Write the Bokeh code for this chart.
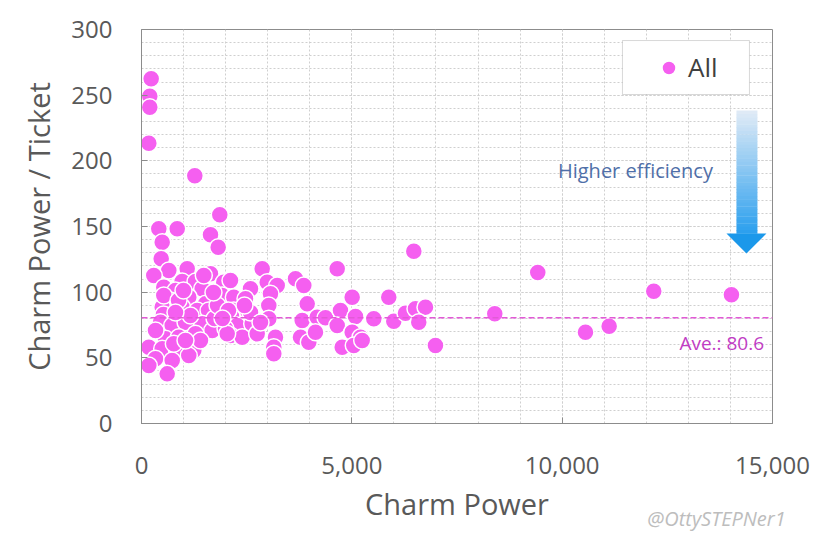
from bokeh.plotting import figure
from bokeh.models import (ColumnDataSource, SingleIntervalTicker, NumeralTickFormatter,
                          Span, Label, BoxAnnotation, LinearAxis, FixedTicker)
from bokeh.embed import file_html
from bokeh.resources import INLINE

# ---- data ----
charm_power = [
    230, 197, 197, 174, 1267, 1861, 411, 849, 1640,
    492, 1823, 468, 649, 1086, 292, 1640, 967, 1284, 530, 808, 1443, 1956, 1918, 689, 1124, 1521, 492, 967, 1324,
    523, 1593, 452, 730, 1046, 1443, 1681, 2037, 1284, 570, 887, 174, 492, 849, 1243, 333, 730, 174, 611, 1124,
    2869, 2116, 2591, 2988, 3226, 3661, 3858, 2194, 2472, 3066, 3026, 3939, 2194, 2512,
    2139, 3026, 2275, 2631, 1997, 2116, 2394, 2750, 3185, 3145, 3145, 3820, 4176, 3779, 3977, 4136,
    4652, 6473, 5008, 5878, 4374, 4730, 5087, 5522, 5997, 6275, 6513, 6751, 6591, 4652, 5008, 5206, 4771, 5046, 5246, 6988, 8398,
    9420, 10554, 11117, 12177, 14024,
    2037, 768, 530, 1481, 880, 1165, 1735, 1807, 1402, 1046, 808, 333, 1711, 998, 2068, 2591, 2829, 2448, 1925,
]
cp_per_ticket = [
    262.5, 249.2, 240.8, 213.4, 188.6, 158.9, 148.3, 148.3, 143.7,
    138.0, 134.2, 125.4, 116.5, 117.8, 112.7, 114.0, 108.1, 108.1, 103.8, 101.3, 102.6, 107.6, 97.5, 93.7, 96.2, 91.1, 88.6, 88.6, 86.0,
    83.0, 86.0, 77.1, 74.6, 77.1, 75.9, 70.8, 73.3, 68.3, 64.5, 65.7, 58.1, 56.9, 54.3, 55.6, 49.3, 48.0, 44.2, 37.8, 51.8,
    117.8, 108.9, 102.6, 107.6, 105.1, 110.2, 105.1, 96.2, 95.0, 98.8, 89.9, 91.1, 86.0, 86.0,
    81.5, 79.7, 74.6, 75.9, 72.1, 67.0, 65.7, 68.3, 65.7, 58.1, 53.1, 78.4, 80.9, 65.7, 61.9, 69.5,
    117.8, 131.2, 96.2, 96.2, 80.5, 86.0, 81.5, 79.7, 77.9, 84.0, 87.3, 88.6, 77.1, 74.6, 69.5, 65.7, 58.1, 59.4, 63.2, 59.4, 83.5,
    115.0, 69.5, 74.1, 100.7, 98.0,
    68.3, 60.7, 97.5, 112.7, 93.7, 82.2, 80.0, 89.9, 63.2, 63.2, 84.5, 70.8, 99.7, 101.3, 86.0, 84.5, 76.9, 89.9, 80.0,
]
average_value = 80.6
series_name = "All"
x_title = "Charm Power"
y_title = "Charm Power / Ticket"
note_text = "Higher efficiency"
credit_text = "@OttySTEPNer1"

# ---- styles ----
FONT = "Open Sans"
PINK = "#f55ff0"
GRID = "#cfcfcf"
AXIS = "#8c8c8c"
TXT = "#595959"

p = figure(width=811, height=536, x_range=(0, 15000), y_range=(0, 300),
           output_backend="svg", toolbar_location=None,
           min_border_left=141, min_border_right=39, min_border_top=29, min_border_bottom=113,
           background_fill_color="white", border_fill_color="white")
p.outline_line_color = AXIS
p.outline_line_width = 1

p.xaxis.ticker = SingleIntervalTicker(interval=5000, num_minor_ticks=5)
p.yaxis.ticker = SingleIntervalTicker(interval=50, num_minor_ticks=5)
p.xaxis.formatter = NumeralTickFormatter(format="0,0")
for g in (p.xgrid, p.ygrid):
    g.grid_line_color = GRID
    g.grid_line_dash = "2 2"
    g.grid_line_width = 1
    g.minor_grid_line_color = GRID
    g.minor_grid_line_dash = "2 2"
    g.minor_grid_line_width = 1

for ax in (p.xaxis[0], p.yaxis[0]):
    ax.axis_line_color = AXIS
    ax.major_tick_line_color = AXIS
    ax.major_tick_in = 6
    ax.major_tick_out = 0
    ax.minor_tick_in = 0
    ax.minor_tick_out = 0
    ax.major_label_text_font = FONT
    ax.major_label_text_font_size = "24px"
    ax.major_label_text_color = TXT
    ax.axis_label_text_font = FONT
    ax.axis_label_text_font_size = "29px"
    ax.axis_label_text_font_style = "normal"
    ax.axis_label_text_color = TXT
p.xaxis.axis_label = x_title
p.yaxis.axis_label = y_title
p.xaxis.major_label_standoff = 33
p.xaxis.axis_label_standoff = 7
p.yaxis.major_label_standoff = 29
p.yaxis.axis_label_standoff = 10

# average line
p.add_layout(Span(location=average_value, dimension="width", line_color="#e25ad6",
                  line_dash="6 3", line_width=1.5))
p.add_layout(Label(x=14800, y=average_value, y_offset=-25, text=f"Ave.: {average_value}",
                   text_align="right", text_baseline="alphabetic",
                   text_font=FONT, text_font_size="19px", text_color="#c13cc4"))

# legend frame
p.add_layout(BoxAnnotation(left=11433, right=14452, bottom=250.5, top=291.6,
                           fill_color="white", fill_alpha=1.0,
                           line_color="#7f7f7f", line_width=1, level="underlay"))

# gradient arrow (decoration)
n_bands = 36
y_top, y_neck, y_tip = 238.3, 144.7, 129.4
x_l, x_r = 14143, 14642
c0, c1 = (223, 234, 246), (45, 160, 238)
lefts, rights, tops, bots, cols = [], [], [], [], []
for i in range(n_bands):
    t = i / (n_bands - 1)
    lefts.append(x_l); rights.append(x_r)
    tops.append(y_top - (y_top - y_neck) * i / n_bands)
    bots.append(y_top - (y_top - y_neck) * (i + 1) / n_bands - 0.3)
    c = tuple(int(round(a + (b - a) * t)) for a, b in zip(c0, c1))
    cols.append("#%02x%02x%02x" % c)
p.quad(left=lefts, right=rights, top=tops, bottom=bots, fill_color=cols, line_color=None)
p.patch(x=[13905, 14856, 14380], y=[y_neck, y_neck, y_tip], fill_color="#1b98ea", line_color=None)

p.add_layout(Label(x=11742, y=192.6, text=note_text, text_align="center", text_baseline="middle",
                   text_font=FONT, text_font_size="20px", text_color="#4f6fa8"))

# scatter
src = ColumnDataSource(dict(x=charm_power, y=cp_per_ticket))
p.scatter("x", "y", source=src, size=17, fill_color=PINK, line_color="white", line_width=1.5,
          legend_label=series_name)

leg = p.legend[0]
leg.location = (510, 338)
leg.padding = 0
leg.margin = 0
leg.spacing = 0
leg.border_line_color = None
leg.background_fill_alpha = 0
leg.glyph_width = 35
leg.glyph_height = 35
leg.label_height = 35
leg.label_standoff = 2
leg.label_text_font = FONT
leg.label_text_font_size = "26px"
leg.label_text_color = "#404040"

# credit: a single overridden tick label on an otherwise empty secondary axis
CREDIT_AT = 13670
cred = LinearAxis(ticker=FixedTicker(ticks=[CREDIT_AT]),
                  major_label_overrides={CREDIT_AT: credit_text},
                  axis_line_color=None, major_tick_line_color=None, minor_tick_line_color=None,
                  major_tick_in=0, major_tick_out=0, minor_tick_in=0, minor_tick_out=0,
                  major_label_standoff=-21,
                  major_label_text_font=FONT, major_label_text_font_size="20px",
                  major_label_text_font_style="italic", major_label_text_color="#bdbdbd")
p.add_layout(cred, "below")

open("out.html", "w").write(file_html(p, INLINE))
